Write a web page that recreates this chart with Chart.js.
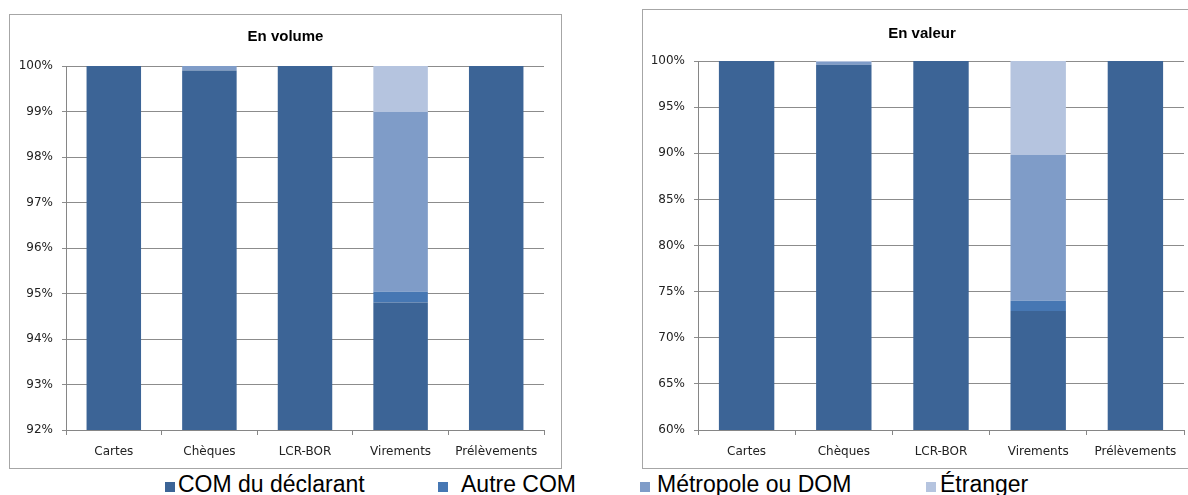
<!DOCTYPE html>
<html>
<head>
<meta charset="utf-8">
<script src="https://cdn.jsdelivr.net/npm/chart.js@4"></script>
<style>
  html, body { margin: 0; padding: 0; background: #fff; }
  body { width: 1188px; height: 495px; position: relative; overflow: hidden; font-family: "Liberation Sans", Arial, sans-serif; }
  .frame { position: absolute; border: 1px solid #a6a6a6; box-sizing: border-box; background: #fff; }
  .frame canvas { position: absolute; left: 0; top: 0; }
  .leg { position: absolute; top: 473px; font-size: 23px; line-height: 23px; color: #000; white-space: nowrap; }
  .sw { position: absolute; top: 482px; width: 10px; height: 10px; }
</style>
</head>
<body>
<div class="frame" id="f1" style="left:9px;top:14px;width:553px;height:455px;"><canvas id="c1"></canvas></div>
<div class="frame" id="f2" style="left:642px;top:9px;width:560px;height:460px;"><canvas id="c2"></canvas></div>
<div id="legend"></div>
<script>
// Categories of payment instruments
const categories = ["Cartes", "Chèques", "LCR-BOR", "Virements", "Prélèvements"];

// Series (destination of the counterparty)
const seriesNames = ["COM du déclarant", "Autre COM", "Métropole ou DOM", "Étranger"];
const seriesColors = ["#3c6496", "#4677b3", "#7f9cc8", "#b5c4df"];

// Share of transactions, in volume (%)
const volumeDeclarant = [100, 99.9, 100, 94.8, 100];
const volumeAutreCom  = [0, 0, 0, 0.24, 0];
const volumeMetropole = [0, 0.1, 0, 3.95, 0];
const volumeEtranger  = [0, 0, 0, 1.01, 0];

// Share of transactions, in value (%)
const valeurDeclarant = [100, 99.6, 100, 72.9, 100];
const valeurAutreCom  = [0, 0, 0, 1.1, 0];
const valeurMetropole = [0, 0.3, 0, 15.8, 0];
const valeurEtranger  = [0, 0.1, 0, 10.2, 0];

// Axis ranges
const volumeAxis = { min: 92, max: 100, step: 1 };
const valeurAxis = { min: 60, max: 100, step: 5 };

const tickFont = { family: "DejaVu Sans", size: 12 };

function makeChart(canvasId, w, h, title, seriesData, axis, geo) {
  const cv = document.getElementById(canvasId);
  cv.width = w; cv.height = h;
  cv.style.width = w + "px"; cv.style.height = h + "px";
  return new Chart(cv, {
    type: "bar",
    data: {
      labels: categories,
      datasets: seriesData.map((d, i) => ({
        label: seriesNames[i],
        data: d,
        backgroundColor: seriesColors[i],
        borderWidth: 0,
        categoryPercentage: 1,
        barPercentage: 0.57
      }))
    },
    options: {
      responsive: false,
      animation: false,
      devicePixelRatio: 1,
      layout: { padding: 0 },
      plugins: {
        legend: { display: false },
        tooltip: { enabled: false },
        title: {
          display: true,
          text: title,
          color: "#000",
          font: { family: "Liberation Sans", size: 15, weight: "bold", lineHeight: 1.2 },
          padding: { top: geo.titleTop, bottom: geo.titleBottom }
        }
      },
      scales: {
        x: {
          stacked: true,
          offset: true,
          grid: { offset: true, drawOnChartArea: false, drawTicks: true, tickLength: 5, color: "#868686" },
          border: { color: "#868686", width: 1 },
          ticks: { color: "#222", font: tickFont, padding: 10, maxRotation: 0 },
          afterFit: s => { s.height = geo.xHeight; }
        },
        y: {
          stacked: true,
          min: axis.min,
          max: axis.max,
          grid: { color: "#8c8c8c", tickLength: 4, drawTicks: true },
          border: { color: "#868686", width: 1 },
          ticks: {
            stepSize: axis.step,
            color: "#222",
            font: tickFont,
            padding: 9,
            callback: v => v + "%"
          },
          afterFit: s => { s.width = geo.yWidth; }
        },
        // empty right-hand margin so the plot sits left of the frame edge
        margin: {
          type: "linear",
          position: "right",
          display: true,
          grid: { display: false, drawOnChartArea: false },
          border: { display: false },
          ticks: { display: false },
          afterFit: s => { s.width = geo.rightGap; }
        }
      }
    }
  });
}

makeChart("c1", 551, 453, "En volume",
  [volumeDeclarant, volumeAutreCom, volumeMetropole, volumeEtranger], volumeAxis,
  { titleTop: 13, titleBottom: 20, xHeight: 38, yWidth: 56, rightGap: 17 });

makeChart("c2", 558, 458, "En valeur",
  [valeurDeclarant, valeurAutreCom, valeurMetropole, valeurEtranger], valeurAxis,
  { titleTop: 15, titleBottom: 18, xHeight: 38, yWidth: 55, rightGap: 17 });

// Shared legend below both charts
const legendPos = [
  { sw: 165, tx: 178 },
  { sw: 438, tx: 461 },
  { sw: 640, tx: 657 },
  { sw: 926, tx: 940 }
];
const legend = document.getElementById("legend");
seriesNames.forEach((name, i) => {
  const sq = document.createElement("div");
  sq.className = "sw";
  sq.style.left = legendPos[i].sw + "px";
  sq.style.background = seriesColors[i];
  legend.appendChild(sq);
  const t = document.createElement("div");
  t.className = "leg";
  t.style.left = legendPos[i].tx + "px";
  t.textContent = name;
  legend.appendChild(t);
});
</script>
</body>
</html>
